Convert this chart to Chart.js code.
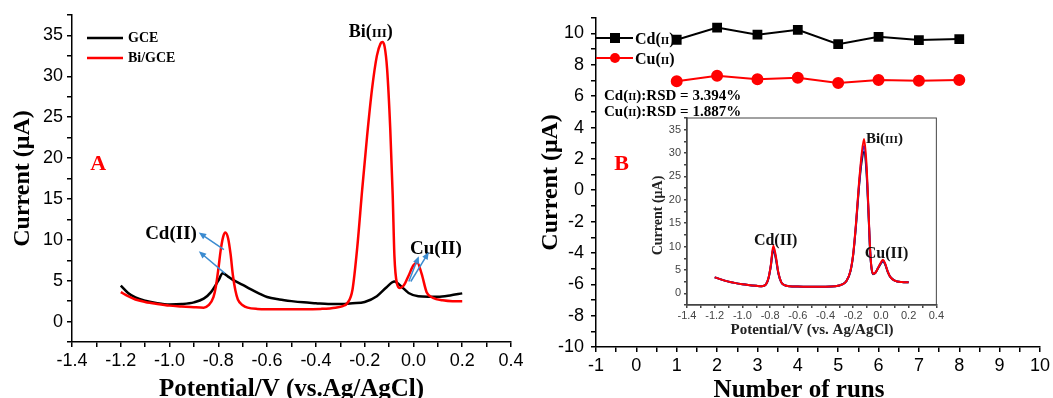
<!DOCTYPE html>
<html>
<head>
<meta charset="utf-8">
<script src="https://cdn.jsdelivr.net/npm/chart.js@4.4.0/dist/chart.umd.min.js"></script>
<style>
body { margin: 0; background: #fff; }
#wrap { position: relative; width: 1053px; height: 398px; overflow: hidden; }
canvas { position: absolute; }
</style>
</head>
<body>
<div id="wrap">
<canvas id="chartA" width="530" height="398" style="left:0;top:0"></canvas>
<canvas id="chartB" width="523" height="398" style="left:530px;top:0"></canvas>
<canvas id="chartInset" width="305" height="240" style="left:640px;top:108px"></canvas>
</div>
<script>
// panel A: GCE and Bi/GCE stripping curves
const gcePotential = [-1.2, -1.17, -1.14, -1.1, -1.05, -1.0, -0.95, -0.9, -0.86, -0.83, -0.8, -0.782, -0.76, -0.74, -0.7, -0.67, -0.63, -0.6, -0.55, -0.5, -0.45, -0.4, -0.35, -0.3, -0.25, -0.2, -0.15, -0.11, -0.078, -0.05, -0.02, 0.02, 0.06, 0.1, 0.15, 0.2]
const gceCurrent = [4.4, 3.5, 2.95, 2.55, 2.25, 2.1, 2.15, 2.35, 2.8, 3.6, 5.0, 5.9, 5.5, 5.1, 4.5, 4.0, 3.4, 3.0, 2.7, 2.5, 2.35, 2.25, 2.15, 2.15, 2.25, 2.4, 3.1, 4.2, 4.9, 4.3, 3.5, 3.1, 3.05, 3.05, 3.2, 3.45]
const biPotential = [-1.2, -1.17, -1.14, -1.1, -1.05, -1.0, -0.95, -0.9, -0.86, -0.84, -0.82, -0.81, -0.8, -0.79, -0.78, -0.771, -0.76, -0.75, -0.74, -0.73, -0.72, -0.7, -0.68, -0.64, -0.55, -0.45, -0.38, -0.32, -0.29, -0.27, -0.25, -0.23, -0.21, -0.19, -0.17, -0.15, -0.135, -0.127, -0.118, -0.108, -0.095, -0.085, -0.078, -0.068, -0.055, -0.04, -0.02, 0.0, 0.016, 0.034, 0.054, 0.08, 0.12, 0.16, 0.2]
const biCurrent = [3.6, 3.1, 2.7, 2.4, 2.15, 1.95, 1.85, 1.75, 1.7, 2.0, 3.0, 4.3, 6.4, 8.8, 10.4, 10.9, 10.2, 8.3, 5.6, 3.8, 2.7, 2.0, 1.7, 1.55, 1.5, 1.5, 1.55, 1.7, 1.9, 2.3, 3.9, 9.2, 16.2, 22.7, 28.4, 32.5, 34.0, 34.2, 33.6, 30.9, 23.5, 15.4, 8.0, 4.7, 4.1, 4.4, 5.6, 6.9, 7.2, 5.8, 3.6, 2.9, 2.6, 2.5, 2.5]

// panel B: repeated runs
const runs = [1, 2, 3, 4, 5, 6, 7, 8]
const cdCurrent = [9.6, 10.38, 9.92, 10.23, 9.32, 9.79, 9.58, 9.64]
const cuCurrent = [6.95, 7.31, 7.08, 7.18, 6.84, 7.03, 6.99, 7.03]

// inset: overlaid stripping curves
const insetPotential = [-1.2, -1.1, -1.0, -0.9, -0.86, -0.83, -0.81, -0.795, -0.777, -0.76, -0.74, -0.72, -0.7, -0.66, -0.6, -0.5, -0.4, -0.33, -0.28, -0.25, -0.22, -0.2, -0.18, -0.16, -0.14, -0.122, -0.105, -0.09, -0.08, -0.07, -0.058, -0.04, -0.02, 0.0, 0.015, 0.03, 0.05, 0.07, 0.1, 0.15, 0.2]
const insetRed = [3.4, 2.5, 1.95, 1.6, 1.5, 1.9, 3.5, 6.0, 10.2, 8.2, 4.4, 2.4, 1.8, 1.5, 1.45, 1.4, 1.4, 1.5, 1.9, 2.6, 4.8, 8.5, 15.0, 23.0, 29.5, 33.0, 28.0, 18.0, 10.5, 6.0, 4.2, 4.4, 5.5, 6.6, 7.2, 6.4, 4.6, 3.4, 2.7, 2.4, 2.35]
const insetBlue = [3.4, 2.5, 1.95, 1.6, 1.5, 1.9, 3.5, 5.9, 9.8, 7.9, 4.3, 2.4, 1.8, 1.5, 1.45, 1.4, 1.4, 1.5, 1.9, 2.6, 4.8, 8.4, 14.8, 22.6, 28.8, 31.5, 27.0, 17.6, 10.3, 5.9, 4.2, 4.4, 5.5, 6.5, 7.0, 6.3, 4.6, 3.4, 2.7, 2.4, 2.35]
const insetBlack = [3.4, 2.5, 1.95, 1.6, 1.5, 1.9, 3.4, 5.8, 9.4, 7.6, 4.2, 2.4, 1.8, 1.5, 1.45, 1.4, 1.4, 1.5, 1.9, 2.6, 4.7, 8.3, 14.5, 22.2, 28.0, 30.3, 26.3, 17.2, 10.1, 5.8, 4.1, 4.4, 5.4, 6.4, 6.9, 6.2, 4.5, 3.4, 2.7, 2.4, 2.35]

const serif = '"Liberation Serif", "Times New Roman", serif'
const sans = '"Liberation Sans", Arial, sans-serif'
const sb = size => 'bold ' + size + 'px ' + serif

function toXY(xs, ys) {
    return xs.map((x, i) => ({ x: x, y: ys[i] }))
}

// text made of pieces in different sizes (for the small capitals)
function richText(ctx, parts, x, baseline, align) {
    let w = 0
    parts.forEach(p => { ctx.font = p[1]; w += ctx.measureText(p[0]).width })
    let cx = align === 'center' ? x - w / 2 : x
    ctx.textAlign = 'left'
    ctx.textBaseline = 'alphabetic'
    parts.forEach(p => {
        ctx.font = p[1]
        ctx.fillText(p[0], cx, baseline)
        cx += ctx.measureText(p[0]).width
    })
}

function arrow(ctx, x1, y1, x2, y2) {
    const a = Math.atan2(y2 - y1, x2 - x1)
    ctx.strokeStyle = '#3b8bd0'
    ctx.fillStyle = '#3b8bd0'
    ctx.lineWidth = 1.5
    ctx.beginPath()
    ctx.moveTo(x1, y1)
    ctx.lineTo(x2 - 5 * Math.cos(a), y2 - 5 * Math.sin(a))
    ctx.stroke()
    ctx.beginPath()
    ctx.moveTo(x2, y2)
    ctx.lineTo(x2 - 8 * Math.cos(a - 0.4), y2 - 8 * Math.sin(a - 0.4))
    ctx.lineTo(x2 - 8 * Math.cos(a + 0.4), y2 - 8 * Math.sin(a + 0.4))
    ctx.closePath()
    ctx.fill()
}

function potentialLabel(v) {
    const n = Math.round(v * 10)
    return n % 2 === 0 ? (n / 10).toFixed(1) : ''
}
function currentLabel(v) {
    return (v >= 0 && v % 5 === 0) ? v : ''
}

function axisStyle(fontSize, color, tickLen, pad) {
    return {
        grid: { drawOnChartArea: false, drawTicks: true, tickLength: tickLen, color: color, lineWidth: 1.5 },
        border: { display: true, color: color, width: 1.5 },
        ticks: { autoSkip: false, maxRotation: 0, padding: pad, color: color, font: { family: sans, size: fontSize } }
    }
}

function merge(base, extra) {
    const out = Object.assign({}, base, extra)
    out.ticks = Object.assign({}, base.ticks, extra.ticks || {})
    return out
}

// ---------- panel A ----------
const plotA = {
    id: 'plotA',
    afterDraw(chart) {
        const ctx = chart.ctx
        const area = chart.chartArea
        const xs = chart.scales.x
        const ys = chart.scales.y
        const px = v => xs.getPixelForValue(v)
        const py = v => ys.getPixelForValue(v)
        ctx.save()
        ctx.fillStyle = '#000'
        // axis titles
        ctx.save()
        ctx.translate(23, (area.top + area.bottom) / 2)
        ctx.rotate(-Math.PI / 2)
        ctx.font = sb(24)
        ctx.textAlign = 'center'
        ctx.textBaseline = 'middle'
        ctx.fillText('Current (μA)', 0, 0)
        ctx.restore()
        ctx.font = sb(25)
        ctx.textAlign = 'center'
        ctx.textBaseline = 'alphabetic'
        ctx.fillText('Potential/V (vs.Ag/AgCl)', (area.left + area.right) / 2, 396)

        // legend
        const legend = [['GCE', '#000', 38], ['Bi/GCE', '#ff0000', 58]]
        legend.forEach(l => {
            ctx.strokeStyle = l[1]
            ctx.lineWidth = 2.5
            ctx.beginPath()
            ctx.moveTo(area.left + 15, l[2])
            ctx.lineTo(area.left + 51, l[2])
            ctx.stroke()
            ctx.fillStyle = '#000'
            ctx.font = sb(14)
            ctx.textAlign = 'left'
            ctx.textBaseline = 'middle'
            ctx.fillText(l[0], area.left + 56, l[2])
        })

        // panel letter
        ctx.fillStyle = '#ff0000'
        ctx.font = sb(22)
        ctx.textAlign = 'center'
        ctx.textBaseline = 'middle'
        ctx.fillText('A', px(-1.293), py(19.2))

        // peak labels
        ctx.fillStyle = '#000'
        richText(ctx, [['Bi(', sb(18)], ['III', sb(13)], [')', sb(18)]], px(-0.175), py(35.5) + 6, 'center')
        richText(ctx, [['Cd(II)', sb(19)]], px(-0.994), py(10.9) + 6.5, 'center')
        richText(ctx, [['Cu(II)', sb(19)]], px(0.092), py(9.1) + 6.5, 'center')

        // arrows
        arrow(ctx, px(-0.777), py(8.8), px(-0.88), py(10.9))
        arrow(ctx, px(-0.773), py(5.9), px(-0.88), py(8.6))
        arrow(ctx, px(-0.019), py(4.9), px(0.022), py(8.0))
        arrow(ctx, px(-0.011), py(4.9), px(0.063), py(8.5))
        ctx.restore()
    }
}

new Chart(document.getElementById('chartA'), {
    type: 'line',
    data: {
        datasets: [
            { label: 'Bi/GCE', data: toXY(biPotential, biCurrent), borderColor: '#ff0000', borderWidth: 2.5, pointRadius: 0, cubicInterpolationMode: 'monotone' },
            { label: 'GCE', data: toXY(gcePotential, gceCurrent), borderColor: '#000', borderWidth: 2.5, pointRadius: 0, cubicInterpolationMode: 'monotone' }
        ]
    },
    options: {
        responsive: false,
        animation: false,
        layout: { padding: { top: 15, right: 19, left: 0, bottom: 0 } },
        plugins: { legend: { display: false }, tooltip: { enabled: false } },
        scales: {
            x: merge(axisStyle(18, '#000', 5, 3), {
                type: 'linear', min: -1.4, max: 0.4,
                afterFit: s => { s.height = 56 },
                ticks: { stepSize: 0.1, callback: potentialLabel }
            }),
            y: merge(axisStyle(18, '#000', 5, 4), {
                type: 'linear', min: -2.5, max: 37.5,
                afterFit: s => { s.width = 72 },
                ticks: { stepSize: 2.5, callback: currentLabel }
            })
        }
    },
    plugins: [plotA]
})

// ---------- panel B ----------
const plotB = {
    id: 'plotB',
    afterDraw(chart) {
        const ctx = chart.ctx
        const area = chart.chartArea
        ctx.save()
        ctx.fillStyle = '#000'
        ctx.save()
        ctx.translate(21, (area.top + area.bottom) / 2)
        ctx.rotate(-Math.PI / 2)
        ctx.font = sb(24)
        ctx.textAlign = 'center'
        ctx.textBaseline = 'middle'
        ctx.fillText('Current (μA)', 0, 0)
        ctx.restore()
        ctx.font = sb(25)
        ctx.textAlign = 'center'
        ctx.textBaseline = 'alphabetic'
        ctx.fillText('Number of runs', 269, 397)

        // legend
        const x0 = area.left
        ctx.lineWidth = 2
        ctx.strokeStyle = '#000'
        ctx.beginPath(); ctx.moveTo(x0, 38); ctx.lineTo(x0 + 37, 38); ctx.stroke()
        ctx.fillRect(x0 + 19 - 5, 38 - 5, 10, 10)
        ctx.strokeStyle = '#ff0000'
        ctx.fillStyle = '#ff0000'
        ctx.beginPath(); ctx.moveTo(x0, 58); ctx.lineTo(x0 + 37, 58); ctx.stroke()
        ctx.beginPath(); ctx.arc(x0 + 19, 58, 5, 0, Math.PI * 2); ctx.fill()
        ctx.fillStyle = '#000'
        richText(ctx, [['Cd(', sb(16)], ['II', sb(11)], [')', sb(16)]], x0 + 39, 43.5, 'left')
        richText(ctx, [['Cu(', sb(16)], ['II', sb(11)], [')', sb(16)]], x0 + 39, 63.5, 'left')

        // RSD notes
        richText(ctx, [['Cd(', sb(15)], ['II', sb(10.5)], ['):RSD = 3.394%', sb(15)]], x0 + 8, 99.5, 'left')
        richText(ctx, [['Cu(', sb(15)], ['II', sb(10.5)], ['):RSD = 1.887%', sb(15)]], x0 + 8, 115.5, 'left')

        ctx.fillStyle = '#ff0000'
        ctx.font = sb(22)
        ctx.textAlign = 'center'
        ctx.textBaseline = 'middle'
        ctx.fillText('B', x0 + 25.5, 164)
        ctx.restore()
    }
}

new Chart(document.getElementById('chartB'), {
    type: 'line',
    data: {
        datasets: [
            { label: 'Cd(II)', data: toXY(runs, cdCurrent), borderColor: '#000', backgroundColor: '#000', borderWidth: 2, pointStyle: 'rect', pointRadius: 5.5 },
            { label: 'Cu(II)', data: toXY(runs, cuCurrent), borderColor: '#ff0000', backgroundColor: '#ff0000', borderWidth: 2, pointStyle: 'circle', pointRadius: 5 }
        ]
    },
    options: {
        responsive: false,
        animation: false,
        layout: { padding: { top: 15, right: 12, left: 0, bottom: 0 } },
        plugins: { legend: { display: false }, tooltip: { enabled: false } },
        scales: {
            x: merge(axisStyle(18, '#000', 5, 3), {
                type: 'linear', min: -1, max: 10,
                afterFit: s => { s.height = 51 },
                ticks: { stepSize: 0.5, callback: v => Number.isInteger(v) ? v : '' }
            }),
            y: merge(axisStyle(18, '#000', 5, 7), {
                type: 'linear', min: -10, max: 11,
                afterFit: s => { s.width = 66 },
                ticks: { stepSize: 1, callback: v => v % 2 === 0 ? v : '' }
            })
        }
    },
    plugins: [plotB]
})

// ---------- inset ----------
const plotInset = {
    id: 'plotInset',
    afterDraw(chart) {
        const ctx = chart.ctx
        const area = chart.chartArea
        const xs = chart.scales.x
        const ys = chart.scales.y
        const px = v => xs.getPixelForValue(v)
        const py = v => ys.getPixelForValue(v)
        ctx.save()
        ctx.strokeStyle = '#444'
        ctx.lineWidth = 1
        ctx.strokeRect(area.left, area.top, area.right - area.left, area.bottom - area.top)
        ctx.fillStyle = '#222'
        ctx.save()
        ctx.translate(18, (area.top + area.bottom) / 2 + 4)
        ctx.rotate(-Math.PI / 2)
        ctx.font = sb(14)
        ctx.textAlign = 'center'
        ctx.textBaseline = 'middle'
        ctx.fillText('Current (μA)', 0, 0)
        ctx.restore()
        ctx.font = sb(15)
        ctx.textAlign = 'center'
        ctx.textBaseline = 'middle'
        ctx.fillText('Potential/V (vs. Ag/AgCl)', 172, 222)

        ctx.fillStyle = '#111'
        richText(ctx, [['Bi(', sb(15)], ['III', sb(11)], [')', sb(15)]], px(0.025), py(33.3) + 5, 'center')
        richText(ctx, [['Cd(II)', sb(16)]], px(-0.76), py(11.6) + 5.5, 'center')
        richText(ctx, [['Cu(II)', sb(16)]], px(0.04), py(8.8) + 5.5, 'center')
        ctx.restore()
    }
}

const insetLine = (data, color) => ({ data: data, borderColor: color, borderWidth: 2, pointRadius: 0, cubicInterpolationMode: 'monotone' })

new Chart(document.getElementById('chartInset'), {
    type: 'line',
    data: {
        datasets: [
            insetLine(toXY(insetPotential, insetRed), '#ff0000'),
            insetLine(toXY(insetPotential, insetBlue), '#2020ff'),
            insetLine(toXY(insetPotential, insetBlack), '#000')
        ]
    },
    options: {
        responsive: false,
        animation: false,
        layout: { padding: { top: 10, right: 8, left: 0, bottom: 0 } },
        plugins: { legend: { display: false }, tooltip: { enabled: false } },
        scales: {
            x: merge(axisStyle(11, '#444', 3, 1), {
                type: 'linear', min: -1.4, max: 0.4,
                afterFit: s => { s.height = 43 },
                ticks: { stepSize: 0.1, callback: potentialLabel }
            }),
            y: merge(axisStyle(11, '#444', 3, 3), {
                type: 'linear', min: -2.5, max: 37.5,
                afterFit: s => { s.width = 47 },
                ticks: { stepSize: 2.5, callback: currentLabel }
            })
        }
    },
    plugins: [plotInset]
})
</script>
</body>
</html>
